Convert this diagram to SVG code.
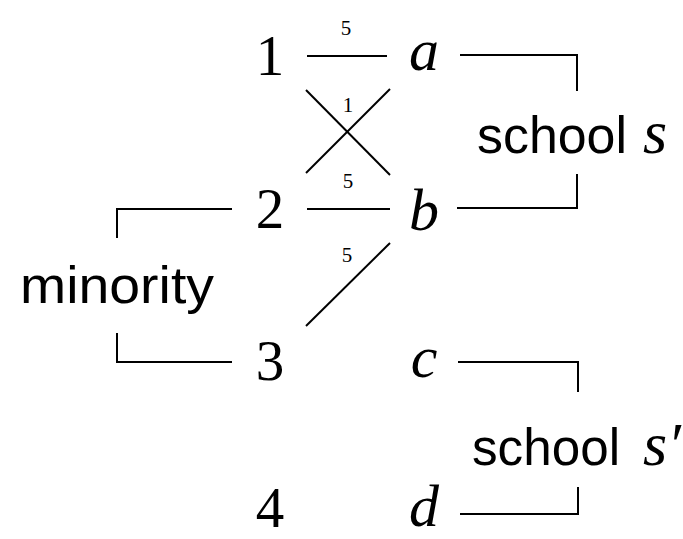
<svg xmlns="http://www.w3.org/2000/svg" width="683" height="539" viewBox="0 0 683 539">
<style>
.num{font-family:"Liberation Serif",serif;font-size:57px;text-anchor:middle;fill:#000}
.var{font-family:"Liberation Serif",serif;font-style:italic;font-size:60px;text-anchor:middle;fill:#000}
.lbl{font-family:"Liberation Serif",serif;font-size:21px;text-anchor:middle;fill:#000}
.sans{font-family:"Liberation Sans",Arial,sans-serif;font-size:52px;fill:#000}
.it{font-family:"Liberation Serif",serif;font-style:italic;font-size:62px}
.ln{stroke:#000;stroke-width:2;fill:none}
</style>
<rect width="683" height="539" fill="#fff"/>
<g id="connectors">
<line class="ln" x1="307" y1="56" x2="387" y2="56"/>
<line class="ln" x1="306" y1="90" x2="390" y2="175"/>
<line class="ln" x1="306" y1="173" x2="390" y2="89"/>
<line class="ln" x1="307" y1="209" x2="390" y2="209"/>
<line class="ln" x1="306" y1="326" x2="390" y2="243"/>
<polyline class="ln" points="460,55 577,55 577,91"/>
<polyline class="ln" points="457,208 577,208 577,174"/>
<polyline class="ln" points="458,362 578,362 578,392"/>
<polyline class="ln" points="460,514 578,514 578,487"/>
<polyline class="ln" points="232,209 117,209 117,238"/>
<polyline class="ln" points="232,362 117,362 117,333"/>
<text class="lbl" x="346" y="35">5</text>
<text class="lbl" x="348" y="112">1</text>
<text class="lbl" x="348" y="188">5</text>
<text class="lbl" x="347" y="262">5</text>
</g>
<g id="n1"><text class="num" x="270" y="75">1</text></g>
<g id="n2"><text class="num" x="270" y="228">2</text></g>
<g id="n3"><text class="num" x="270" y="380">3</text></g>
<g id="n4"><text class="num" x="270" y="527">4</text></g>
<g id="na"><text class="var" x="424" y="70">a</text></g>
<g id="nb"><text class="var" x="424" y="230">b</text></g>
<g id="nc"><text class="var" x="424" y="377">c</text></g>
<g id="nd"><text class="var" x="424" y="526">d</text></g>
<g id="school-s"><text class="sans" x="477" y="153"><tspan textLength="150" lengthAdjust="spacingAndGlyphs">school</tspan><tspan class="it" x="643">s</tspan></text></g>
<g id="school-s2"><text class="sans" x="472" y="465"><tspan textLength="148" lengthAdjust="spacingAndGlyphs">school</tspan><tspan class="it" x="643">s′</tspan></text></g>
<g id="minority"><text class="sans" x="20" y="303" textLength="194" lengthAdjust="spacingAndGlyphs">minority</text></g>
</svg>
